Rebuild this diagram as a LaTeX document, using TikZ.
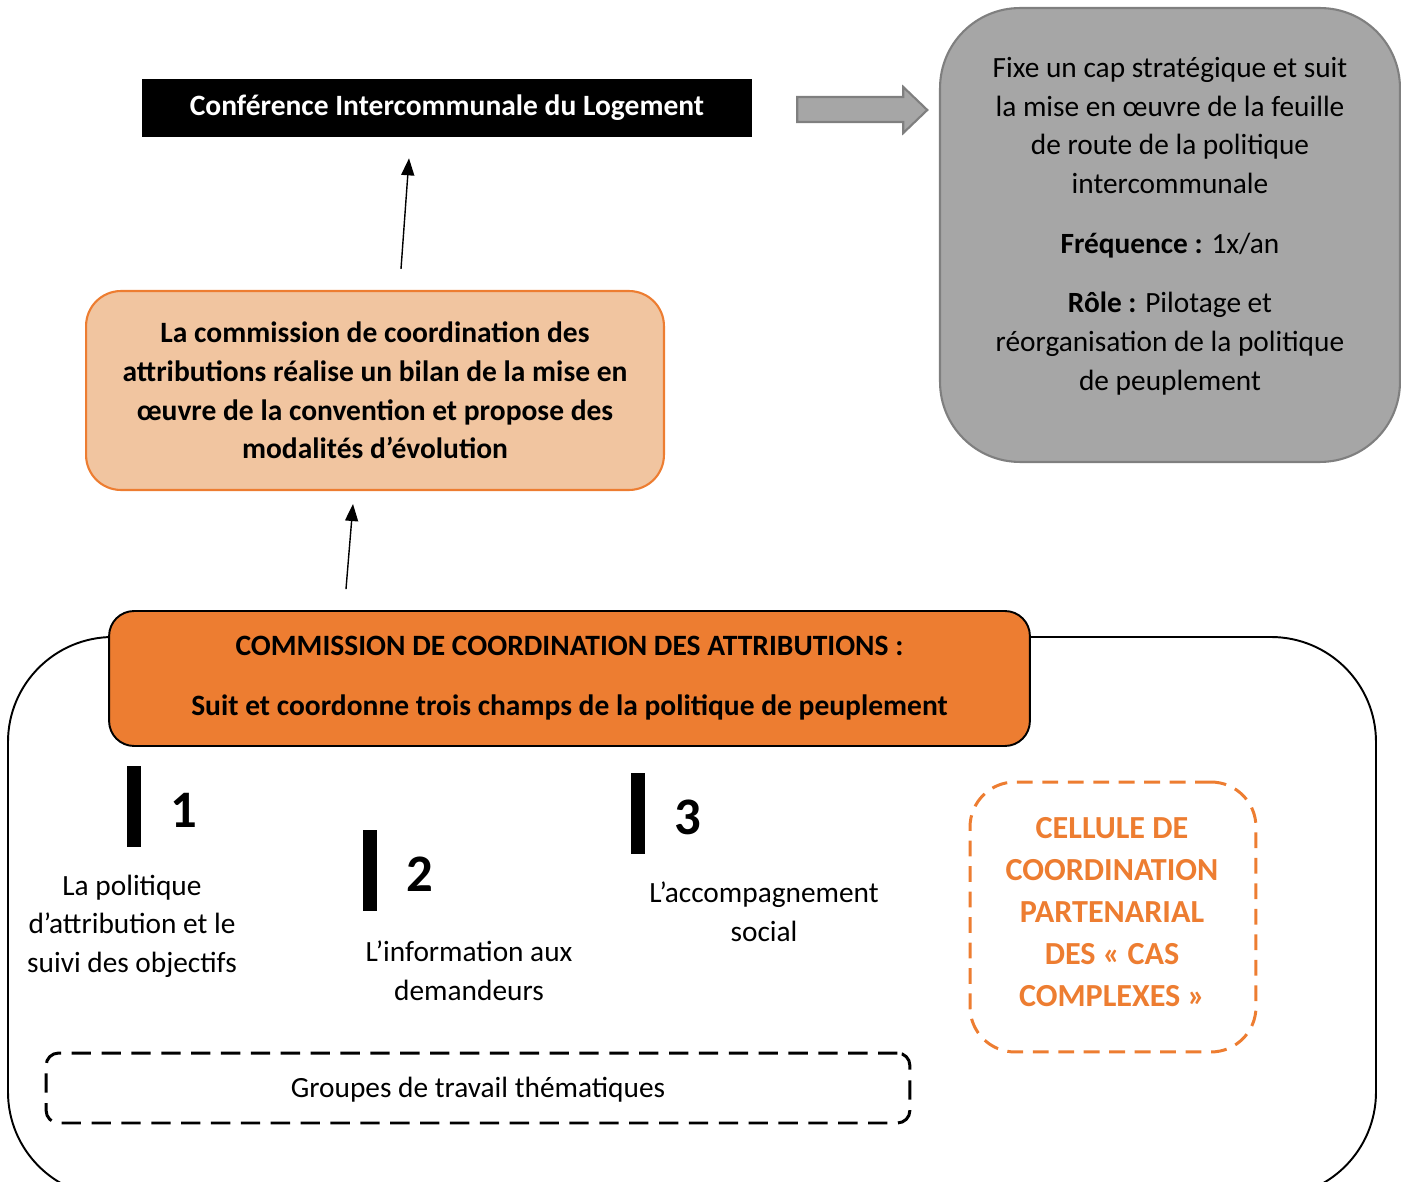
\documentclass[tikz,border=0pt]{standalone}
\usepackage{fontspec}
\setmainfont{Carlito}
\usetikzlibrary{arrows.meta,calc}
\definecolor{cilorange}{RGB}{237,125,49}
\definecolor{cilpeach}{RGB}{241,197,160}
\definecolor{cilgray}{RGB}{166,166,166}
\definecolor{cildark}{RGB}{127,127,127}

\begin{document}
\begin{tikzpicture}[x=0.02cm,y=-0.02cm,
    txt/.style={align=center,inner sep=0pt,font=\fontsize{16.7pt}{22pt}\selectfont},
    bigtxt/.style={align=center,inner sep=0pt,font=\bfseries\fontsize{16.8pt}{22pt}\selectfont},
    arr/.style={-{Triangle[length=3.4mm,width=2.6mm]},line width=0.8pt},
    numtxt/.style={inner sep=0pt,font=\bfseries\fontsize{30pt}{32pt}\selectfont}]
  \useasboundingbox (0,0) rectangle (1401,1182);
  \clip (0,0) rectangle (1401,1182);
  % conference
  \node[fill=black,text=white,bigtxt,minimum width=12.2cm,minimum height=1.16cm] (cil) at (447,108)
    {Conférence Intercommunale du Logement};
  \node[draw=cildark,fill=cilgray,line width=1.2pt,rounded corners=1.6cm,
    minimum width=9.2cm,minimum height=9.08cm] (grey) at (1170,235) {};
  \node[txt] (greytxt) at (1170,226) {Fixe un cap stratégique et suit\\
    la mise en œuvre de la feuille\\ de route de la politique\\ intercommunale\\[12pt]
    \textbf{Fréquence :} 1x/an\\[12pt]
    \textbf{Rôle :} Pilotage et\\ réorganisation de la politique\\ de peuplement};
  \draw[cildark,fill=cilgray,line width=1.2pt] ($(cil.east)+(45,-11)$) -- ++(106,0) -- ++(0,-10)
    -- ++(24,23) -- ++(-24,23) -- ++(0,-11) -- ++(-106,0) -- cycle;
  % bilan
  \node[draw=cilorange,fill=cilpeach,line width=1.2pt,rounded corners=0.7cm,bigtxt,
    minimum width=11.56cm,minimum height=3.98cm] (bilan) at (375,390.5)
    {La commission de coordination des\\ attributions réalise un bilan de la mise en\\
     œuvre de la convention et propose des\\ modalités d’évolution};
  \draw[arr] ($(bilan.north)+(26,-21)$) -- ($(cil.south)+(-38,21)$);
  % commission
  \draw[line width=1.1pt,rounded corners=2.1cm] (8,637) rectangle (1376,1197);
  \node[draw=black,fill=cilorange,line width=1.1pt,rounded corners=0.5cm,bigtxt,
    minimum width=18.42cm,minimum height=2.7cm] (cca) at (569.5,678.5)
    {COMMISSION DE COORDINATION DES ATTRIBUTIONS :\\[12pt]
     Suit et coordonne trois champs de la politique de peuplement};
  \draw[arr] ($(cca.north)+(-223.5,-21)$) -- ($(bilan.south)+(-22,13)$);
  % champs
  \foreach \n/\bx/\by in {1/134/806.5,2/370/870.5,3/638/813.5} {
    \node[fill=black,inner sep=0pt,minimum width=0.28cm,minimum height=1.62cm] (bar\n) at (\bx,\by) {};
    \node[numtxt] (num\n) at ($(bar\n)+(50,4)$) {\n};
  }
  \node[txt] (champ1) at (132,926) {La politique\\ d’attribution et le\\ suivi des objectifs};
  \node[txt] (champ2) at (469,971) {L’information aux\\ demandeurs};
  \node[txt] (champ3) at (764,912) {L’accompagnement\\ social};
  \node[draw=cilorange,line width=1.7pt,dash pattern=on 9pt off 5.5pt,
    rounded corners=0.9cm,minimum width=5.72cm,minimum height=5.4cm] (cellule) at (1113,917) {};
  \node[text=cilorange,align=center,inner sep=0pt,font=\bfseries\fontsize{18.3pt}{24pt}\selectfont]
    (celltxt) at (1112,912) {CELLULE DE\\ COORDINATION\\ PARTENARIAL\\ DES «~CAS\\ COMPLEXES~»};
  \node[draw=black,line width=1.7pt,dash pattern=on 11pt off 6pt,rounded corners=0.25cm,
    minimum width=17.28cm,minimum height=1.4cm] (groupes) at (478,1088) {};
  \node[txt] (groupestxt) at (478,1090) {Groupes de travail thématiques};
\end{tikzpicture}
\end{document}
